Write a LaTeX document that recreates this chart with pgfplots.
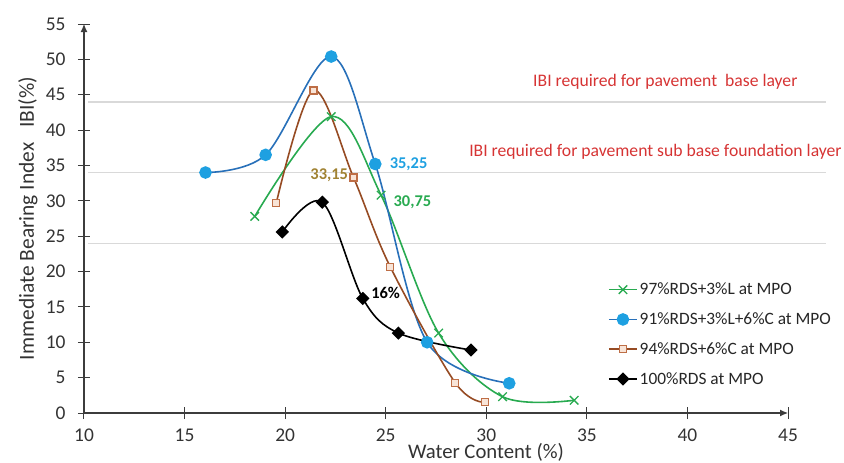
\documentclass[border=0pt]{standalone}
\usepackage{fontspec}
\setmainfont{Carlito}
\usepackage{pgfplots}
\pgfplotsset{compat=1.18}
\usetikzlibrary{arrows.meta}
\definecolor{cgreen}{RGB}{40,170,80}
\definecolor{cblue}{RGB}{30,160,225}
\definecolor{cblueline}{RGB}{40,112,185}
\definecolor{cbrown}{RGB}{150,75,35}
\definecolor{cbrownmk}{RGB}{190,110,70}
\definecolor{cbrownfill}{RGB}{248,228,215}
\definecolor{cred}{RGB}{214,52,52}
\definecolor{cgold}{RGB}{160,130,50}
\definecolor{caxis}{RGB}{60,60,60}
\definecolor{cgrid}{RGB}{217,217,217}
\begin{document}
\begin{tikzpicture}
\useasboundingbox (-84bp,-50bp) rectangle (760bp,413bp);
\begin{axis}[
  scale only axis, width=704bp, height=389bp,
  xmin=10, xmax=45, ymin=0, ymax=55,
  axis lines=left,
  axis line style={caxis, line width=1.1bp},
  x axis line style={-{Latex[length=8bp,width=7bp]}},
  y axis line style={-{Latex[length=8bp,width=7bp]}},
  xtick={10,15,...,45}, ytick={0,5,...,55},
  tick align=center, major tick length=12bp,
  tick style={caxis, line width=1bp},
  ticklabel style={font=\fontsize{19.5}{21}\selectfont, text=black!80},
  /pgf/number format/assume math mode=true,
  xticklabel style={yshift=-6.5bp},
  yticklabel style={xshift=-9bp},
  xlabel={Water Content (\%)},
  xlabel style={at={(rel axis cs:0.571,0)}, anchor=center, yshift=-39.5bp, font=\fontsize{20.8}{23}\selectfont, text=black!80},
  ylabel={Immediate Bearing Index\hspace{0.7em}IBI(\%)},
  ylabel style={at={([xshift=-56bp]rel axis cs:0,0.5)}, anchor=center, font=\fontsize{21.5}{24}\selectfont, text=black!80},
  clip=false,
  legend style={at={(rel axis cs:0.74,0.345)}, anchor=north west, draw=none, fill=none,
    font=\fontsize{17.4}{20}\selectfont, row sep=12.5bp, text=black!85},
  legend cell align=left,
  legend image code/.code={\draw[mark repeat=2,mark phase=2] plot coordinates {(0bp,0bp)(14bp,0bp)(28bp,0bp)};},
  every axis plot/.append style={line width=1.6bp, smooth, tension=0.55},
]
% reference lines
\addplot[cgrid, line width=1.5bp, sharp plot, forget plot] coordinates {(10.2,24) (46.9,24)};
\addplot[cgrid, line width=1.5bp, sharp plot, forget plot] coordinates {(10.2,34) (46.9,34)};
\addplot[cgrid, line width=1.5bp, sharp plot, forget plot] coordinates {(10.2,44) (46.9,44)};

\addplot[cgreen, mark=x, mark size=6bp, mark options={line width=1.3bp}] coordinates {
(18.49,27.8) (22.29,41.9) (24.77,30.8) (27.63,11.3) (30.81,2.3) (34.37,1.8)};
\addlegendentry{97\%RDS+3\%L at MPO}

\addplot[cblueline, mark=*, mark size=5.5bp, mark options={fill=cblue, draw=cblue}] coordinates {
(16.04,34.0) (19.03,36.5) (22.29,50.4) (24.48,35.2) (27.06,10.0) (31.14,4.2)};
\addlegendentry{91\%RDS+3\%L+6\%C at MPO}

\addplot[cbrown, mark=square*, mark size=3.5bp, mark options={fill=cbrownfill, draw=cbrownmk, line width=1.1bp}] coordinates {
(19.56,29.7) (21.41,45.6) (23.40,33.3) (25.22,20.7) (28.45,4.3) (29.94,1.5)};
\addlegendentry{94\%RDS+6\%C at MPO}

\addplot[black, mark=square*, mark size=3.9bp, mark options={rotate=45, fill=black}] coordinates {
(19.86,25.6) (21.85,29.8) (23.86,16.2) (25.63,11.3) (29.24,8.9)};
\addlegendentry{100\%RDS at MPO}

% data labels
\node[anchor=west, text=cblue, font=\fontsize{16.5}{18}\bfseries\selectfont, xshift=11bp] at (axis cs:24.48,35.2) {35,25};
\node[anchor=west, text=cgreen, font=\fontsize{16.5}{18}\bfseries\selectfont, xshift=9bp, yshift=-7bp] at (axis cs:24.77,30.8) {30,75};
\node[anchor=east, text=cgold, font=\fontsize{16.5}{18}\bfseries\selectfont, xshift=-2bp, yshift=2bp] at (axis cs:23.40,33.3) {33,15};
\node[anchor=west, text=black, font=\fontsize{16.5}{18}\bfseries\selectfont, xshift=5bp, yshift=5.5bp] at (axis cs:23.86,16.2) {16\%};

% annotations
\node[text=cred, font=\fontsize{17.7}{20}\selectfont] at (axis cs:38.9,46.8) {IBI required for pavement\ \ base layer};
\node[text=cred, font=\fontsize{17.7}{20}\selectfont] at (axis cs:38.41,36.9) {IBI required for pavement sub base foundation layer};
\end{axis}
\end{tikzpicture}
\end{document}
